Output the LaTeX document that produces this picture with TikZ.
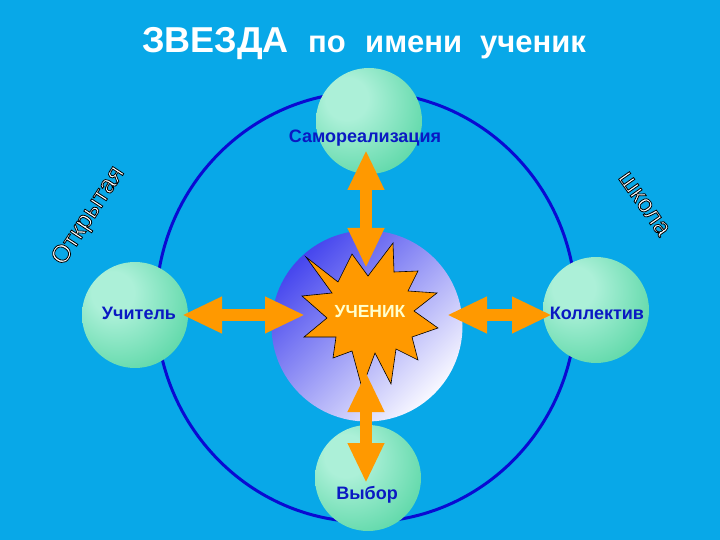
\documentclass[tikz,border=0pt]{standalone}
\usepackage{fontspec}
\setmainfont{Liberation Sans}
\usetikzlibrary{arrows.meta}
\definecolor{bgc}{RGB}{8,168,232}
\definecolor{ringc}{RGB}{10,10,210}
\definecolor{sphA}{RGB}{172,240,216}
\definecolor{sphB}{RGB}{100,218,172}
\definecolor{sphC}{RGB}{50,196,140}
\definecolor{coreA}{RGB}{70,70,238}
\definecolor{coreB}{RGB}{248,248,255}
\definecolor{orng}{RGB}{255,153,0}
\definecolor{lblc}{RGB}{10,25,195}
\definecolor{pupilc}{RGB}{255,255,205}
\pgfdeclareradialshading{sphereshade}{\pgfpoint{-12bp}{12bp}}{color(0bp)=(sphA); color(10bp)=(sphA); color(34bp)=(sphB); color(62bp)=(sphC); color(80bp)=(sphC)}
\newcommand\myoutline[1]{{\color{white}\special{pdf:literal 0 0 0 RG 0.8 w 2 Tr}#1\special{pdf:literal 0 Tr}}}
\tikzset{
  sphere/.style={circle, minimum size=106pt, inner sep=0pt, shading=sphereshade},
  core/.style={circle, minimum size=191pt, inner sep=0pt, top color=coreA, bottom color=coreB, shading angle=45},
  ring/.style={draw=ringc, line width=3pt},
  starfill/.style={fill=orng, draw=black, line width=0.6pt, line join=miter},
  dblarrow/.style={draw=orng, line width=12pt, {Triangle[width=34pt,length=40pt]}-{Triangle[width=34pt,length=40pt]}},
  lbl/.style={text=lblc, font=\bfseries\fontsize{18}{20}\selectfont, inner sep=0pt},
  pupil/.style={text=pupilc, font=\bfseries\fontsize{17.5}{20}\selectfont, inner sep=0pt},
  ttlbig/.style={text=white, font=\bfseries\fontsize{36}{40}\selectfont, inner sep=0pt, anchor=base west},
  ttlsmall/.style={text=white, font=\bfseries\fontsize{31}{36}\selectfont, inner sep=0pt, anchor=base west},
  arc/.style={font=\fontsize{25}{28}\selectfont, inner sep=0pt}
}
\begin{document}
\begin{tikzpicture}[x=1pt,y=-1pt]
\useasboundingbox (0,0) rectangle (720,540);
\fill[bgc] (0,0) rectangle (720,540);
% ring
\draw[ring] (366,307) ellipse [x radius=210pt, y radius=215pt];
% centre disc
\node[core] (core) at (367,326) {};
% spheres
\node[sphere] (top) at (369,121) {};
\node[sphere] (left) at (135,315) {};
\node[sphere] (right) at (596,310) {};
\node[sphere] (bottom) at (368,478) {};
% starburst
\draw[starfill] (306,257) -- (338,282) -- (352,254) -- (368,276) -- (393,243) -- (394,272)
  -- (418,271) -- (408,291) -- (437,293) -- (414,311) -- (438,328) -- (412,337)
  -- (418,360) -- (396,349) -- (391,384) -- (375,353) -- (362,388) -- (352,351)
  -- (333,358) -- (336,337) -- (304,337) -- (327,318) -- (302,296) -- (332,293) -- cycle;
% arrows
\coordinate (aT1) at (366,150);
\coordinate (aT2) at (366,268);
\coordinate (aB1) at (366,372);
\coordinate (aB2) at (366,483);
\coordinate (aL1) at (182,315);
\coordinate (aL2) at (305,315);
\coordinate (aR1) at (447,315);
\coordinate (aR2) at (552,315);
\draw[dblarrow] (aT1) -- (aT2);
\draw[dblarrow] (aB1) -- (aB2);
\draw[dblarrow] (aL1) -- (aL2);
\draw[dblarrow] (aR1) -- (aR2);
% labels
\node[lbl] (lt) at (365,138) {Самореализация};
\node[lbl] (ll) at (139,313) {Учитель};
\node[lbl] (lr) at (597,313) {Коллектив};
\node[lbl] (lb) at (367,495) {Выбор};
\node[pupil] (pupil) at (370,312) {УЧЕНИК};
% title
\node[ttlbig] (t1) at (142,53) {ЗВЕЗДА};
\node[ttlsmall] (t2) at (308,53) {по};
\node[ttlsmall] (t3) at (365,53) {имени};
\node[ttlsmall] (t4) at (480,53) {ученик};
% arc words
\node[arc, rotate=57] (open) at (89,216) {\myoutline{Открытая}};
\node[arc, rotate=-55] (school) at (644,204) {\myoutline{школа}};
\end{tikzpicture}
\end{document}
